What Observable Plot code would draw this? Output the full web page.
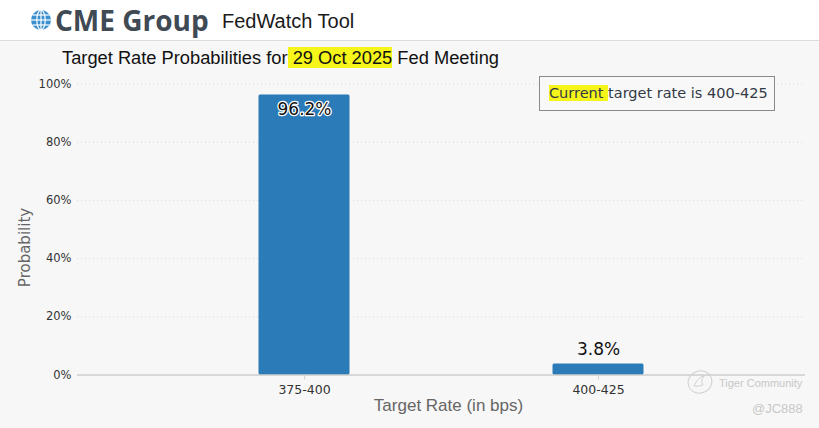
<!DOCTYPE html>
<html>
<head>
<meta charset="utf-8">
<script src="https://cdn.jsdelivr.net/npm/d3@7"></script>
<script src="https://cdn.jsdelivr.net/npm/@observablehq/plot@0.6"></script>
<style>
  html, body { margin: 0; padding: 0; }
  body { width: 819px; height: 428px; overflow: hidden; background: #f7f7f7; position: relative; font-family: "Liberation Sans", Arial, sans-serif; }
  #header { position: absolute; left: 0; top: 0; width: 819px; height: 40px; background: #fff; border-bottom: 1px solid #dcdcdc; }
  #logo { position: absolute; left: 30px; top: 9px; }
  #brand { position: absolute; left: 55px; top: 1px; font-family: "Open Sans", sans-serif; font-weight: 700; font-size: 28px; color: #3f4a54; letter-spacing: 0px; }
  #tool { position: absolute; left: 222px; top: 10px; font-family: "Liberation Sans", Arial, sans-serif; font-size: 20px; color: #1a1a1a; }
  #title { position: absolute; left: 62px; top: 47px; font-size: 18.3px; color: #111; white-space: nowrap; }
  .hl { background: #f5f51a; }
  #curbox { position: absolute; left: 539px; top: 76px; width: 236px; height: 35px; border: 1px solid #8a8a8a; background: #f8f8f8; box-sizing: border-box; font-family: "DejaVu Sans", sans-serif; font-size: 14.5px; color: #333a45; line-height: 33px; padding-left: 9px; white-space: nowrap; }
  #chart { position: absolute; left: 0; top: 41px; }
  #wmlogo { position: absolute; left: 686px; top: 369px; }
  #wm1 { position: absolute; left: 719px; top: 377px; font-size: 11px; color: #c8c8c8; white-space: nowrap; }
  #wm2 { position: absolute; left: 752px; top: 401px; font-size: 13px; color: #c8c8c8; }
</style>
</head>
<body>
<div id="header">
  <svg id="logo" width="22" height="22" viewBox="0 0 22 22">
    <circle cx="11" cy="11" r="10" fill="#3a90cf"/>
    <g stroke="#fff" stroke-width="1.2" fill="none">
      <ellipse cx="11" cy="11" rx="4.2" ry="10"/>
      <line x1="11" y1="1" x2="11" y2="21"/>
      <line x1="1" y1="11" x2="21" y2="11"/>
      <line x1="2.5" y1="6" x2="19.5" y2="6"/>
      <line x1="2.5" y1="16" x2="19.5" y2="16"/>
    </g>
  </svg>
  <div id="brand">CME Group</div>
  <div id="tool">FedWatch Tool</div>
</div>
<div id="title">Target Rate Probabilities for<span class="hl"> 29 Oct 2025</span> Fed Meeting</div>
<div id="chart"></div>
<div id="curbox"><span class="hl">Current </span>target rate is 400-425</div>
<svg id="wmlogo" width="28" height="26" viewBox="0 0 28 26">
  <ellipse cx="14" cy="13" rx="12" ry="11" fill="none" stroke="#d2d2d2" stroke-width="1" transform="rotate(-20 14 13)"/>
  <path d="M8 17 Q12 8 18 7 Q14 12 17 16 Q12 18 8 17" fill="none" stroke="#d2d2d2" stroke-width="1"/>
</svg>
<div id="wm1">Tiger Community</div>
<div id="wm2">@JC888</div>
<script>
const categories = ["375-400", "400-425"];
const probabilities = [96.2, 3.8];
const labels = ["96.2%", "3.8%"];
const yTicks = [0, 20, 40, 60, 80, 100];
const gridTicks = [20, 40, 60, 80, 100];

const data = categories.map((c, i) => ({cat: c, p: probabilities[i], label: labels[i]}));

const chart = Plot.plot({
  width: 819,
  height: 387,
  marginLeft: 77,
  marginRight: 14,
  marginTop: 42.5,
  marginBottom: 53.5,
  style: {background: "transparent", fontFamily: "DejaVu Sans, sans-serif"},
  x: {type: "band", domain: categories, range: [156.5, 744.5], padding: 0, label: null},
  y: {domain: [0, 100], label: null},
  marks: [
    Plot.ruleY(gridTicks, {stroke: "#d8d8d8", strokeDasharray: "1,3", strokeWidth: 1}),
    Plot.ruleX([0], {x: () => 77, stroke: "#cfcfcf"}),
    Plot.barY(data, {x: "cat", y: "p", fill: "#2a7bb8", insetLeft: 101.5, insetRight: 101.5, rx: 1.5}),
    Plot.ruleY([0], {stroke: "#b8b8b8", strokeWidth: 1}),
    Plot.axisY({ticks: yTicks, tickFormat: d => d + "%", tickSize: 0, tickPadding: 6, fontSize: 11.5, fill: "#333"}),
    Plot.axisX({tickSize: 5, stroke: "#d0d0d0", tickPadding: 5, fontSize: 12.5, fill: "#333", style: {letterSpacing: "1.6px"}}),
    Plot.text(data.filter(d => d.p > 50), {x: "cat", y: "p", text: "label", dy: 14, fontSize: 17, fill: "#111", stroke: "#fff", strokeWidth: 2.5, paintOrder: "stroke"}),
    Plot.text(data.filter(d => d.p <= 50), {x: "cat", y: "p", text: "label", dy: -14, fontSize: 17, fill: "#111"}),
    Plot.text(["Probability"], {frameAnchor: "left", textAnchor: "middle", dx: -52, dy: 18, rotate: -90, fontSize: 15, fill: "#666"}),
    Plot.text(["Target Rate (in bps)"], {frameAnchor: "bottom", dx: 7, dy: 36, fontSize: 17, fill: "#666", fontFamily: "Liberation Sans, Arial, sans-serif"})
  ]
});
document.getElementById("chart").appendChild(chart);
</script>
</body>
</html>
